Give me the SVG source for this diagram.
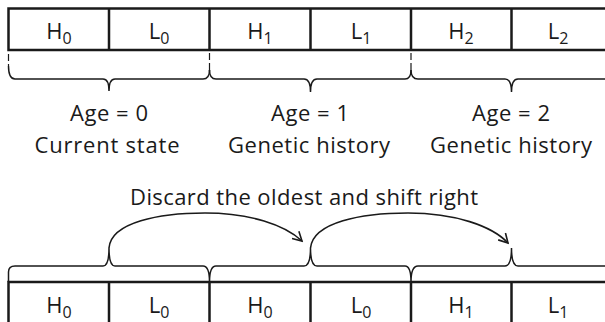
<svg xmlns="http://www.w3.org/2000/svg" width="605" height="322" viewBox="0 0 605 322">
<style>
.box{fill:none;stroke:#1a1a1a;stroke-width:2.5}
.br{fill:none;stroke:#1a1a1a;stroke-width:1.5}
.dash{fill:none;stroke:#1a1a1a;stroke-width:1.2;stroke-dasharray:7,3}
.arr{fill:none;stroke:#1a1a1a;stroke-width:1.6}
text{font-family:"Open Sans","Liberation Sans",Arial,sans-serif;fill:#1a1a1a;text-anchor:middle}
.cell{font-size:22px}
.sub{font-size:16px}
.lab{font-size:22px}
</style>
<defs>
<marker id="ah" viewBox="0 0 12 12" refX="10" refY="6" markerWidth="12" markerHeight="12" markerUnits="userSpaceOnUse" orient="auto">
<path d="M1,1 L10,6 L1,11" fill="none" stroke="#1a1a1a" stroke-width="1.6"/>
</marker>
</defs>
<g id="top-row">
<path class="box" d="M605,8.5 H8.5 V50 H605 M109,8.5 V50 M209.5,8.5 V50 M310.5,8.5 V50 M411,8.5 V50 M511.5,8.5 V50"/>
<text class="cell" x="59" y="39">H<tspan class="sub" dy="5">0</tspan></text>
<text class="cell" x="159" y="39">L<tspan class="sub" dy="5">0</tspan></text>
<text class="cell" x="260" y="39">H<tspan class="sub" dy="5">1</tspan></text>
<text class="cell" x="361" y="39">L<tspan class="sub" dy="5">1</tspan></text>
<text class="cell" x="461" y="39">H<tspan class="sub" dy="5">2</tspan></text>
<text class="cell" x="558" y="39">L<tspan class="sub" dy="5">2</tspan></text>
</g>
<g id="age0">
<path class="dash" d="M8.5,54 V66"/>
<path class="br" d="M8.5,66 Q8.5,79 15,79 H103 Q109,79 109,91 Q109,79 115,79 H203 Q209.5,79 209.5,70"/>
<text class="lab" x="109" y="120.5" textLength="78" lengthAdjust="spacing">Age = 0</text>
<text class="lab" x="107" y="153" textLength="145" lengthAdjust="spacing">Current state</text>
</g>
<g id="age1">
<path class="dash" d="M209.5,53 V70"/>
<path class="br" d="M209.5,70 Q209.5,79 216,79 H304 Q310.5,79 310.5,92 Q310.5,79 317,79 H405 Q411,79 411,70"/>
<text class="lab" x="310" y="120.5" textLength="78" lengthAdjust="spacing">Age = 1</text>
<text class="lab" x="309" y="153" textLength="162" lengthAdjust="spacing">Genetic history</text>
</g>
<g id="age2">
<path class="dash" d="M411,53 V70"/>
<path class="br" d="M411,70 Q411,79 418,79 H505 Q511.5,79 511.5,92 Q511.5,79 518,79 H605"/>
<text class="lab" x="511" y="120.5" textLength="78" lengthAdjust="spacing">Age = 2</text>
<text class="lab" x="511" y="153" textLength="162" lengthAdjust="spacing">Genetic history</text>
</g>
<g id="caption">
<text class="lab" x="304" y="205" textLength="348" lengthAdjust="spacing">Discard the oldest and shift right</text>
</g>
<g id="bottom-row">
<path class="box" d="M605,282 H8.5 V322 M109,282 V322 M209.5,282 V322 M310.5,282 V322 M411,282 V322 M511.5,282 V322"/>
<text class="cell" x="59" y="312.5">H<tspan class="sub" dy="5">0</tspan></text>
<text class="cell" x="159" y="312.5">L<tspan class="sub" dy="5">0</tspan></text>
<text class="cell" x="260" y="312.5">H<tspan class="sub" dy="5">0</tspan></text>
<text class="cell" x="361" y="312.5">L<tspan class="sub" dy="5">0</tspan></text>
<text class="cell" x="461" y="312.5">H<tspan class="sub" dy="5">1</tspan></text>
<text class="cell" x="558" y="312.5">L<tspan class="sub" dy="5">1</tspan></text>
</g>
<g id="bottom-braces">
<path class="br" d="M8.5,282 V272 Q8.5,266 15,266 H103 Q109,266 109,248 Q109,266 115,266 H203 Q209.5,266 209.5,282 Q209.5,266 216,266 H304 Q310.5,266 310.5,248 Q310.5,266 317,266 H405 Q411,266 411,282 Q411,266 418,266 H505 Q511.5,266 511.5,248 Q511.5,266 518,266 H605"/>
</g>
<g id="connectors">
<path class="arr" marker-end="url(#ah)" d="M109,248 C111,222 160,213 205,213 C250,213 285,225 302,241"/>
<path class="arr" marker-end="url(#ah)" d="M310.5,248 C313,222 362,213 408,213 C455,213 492,226 508,243"/>
</g>
</svg>
